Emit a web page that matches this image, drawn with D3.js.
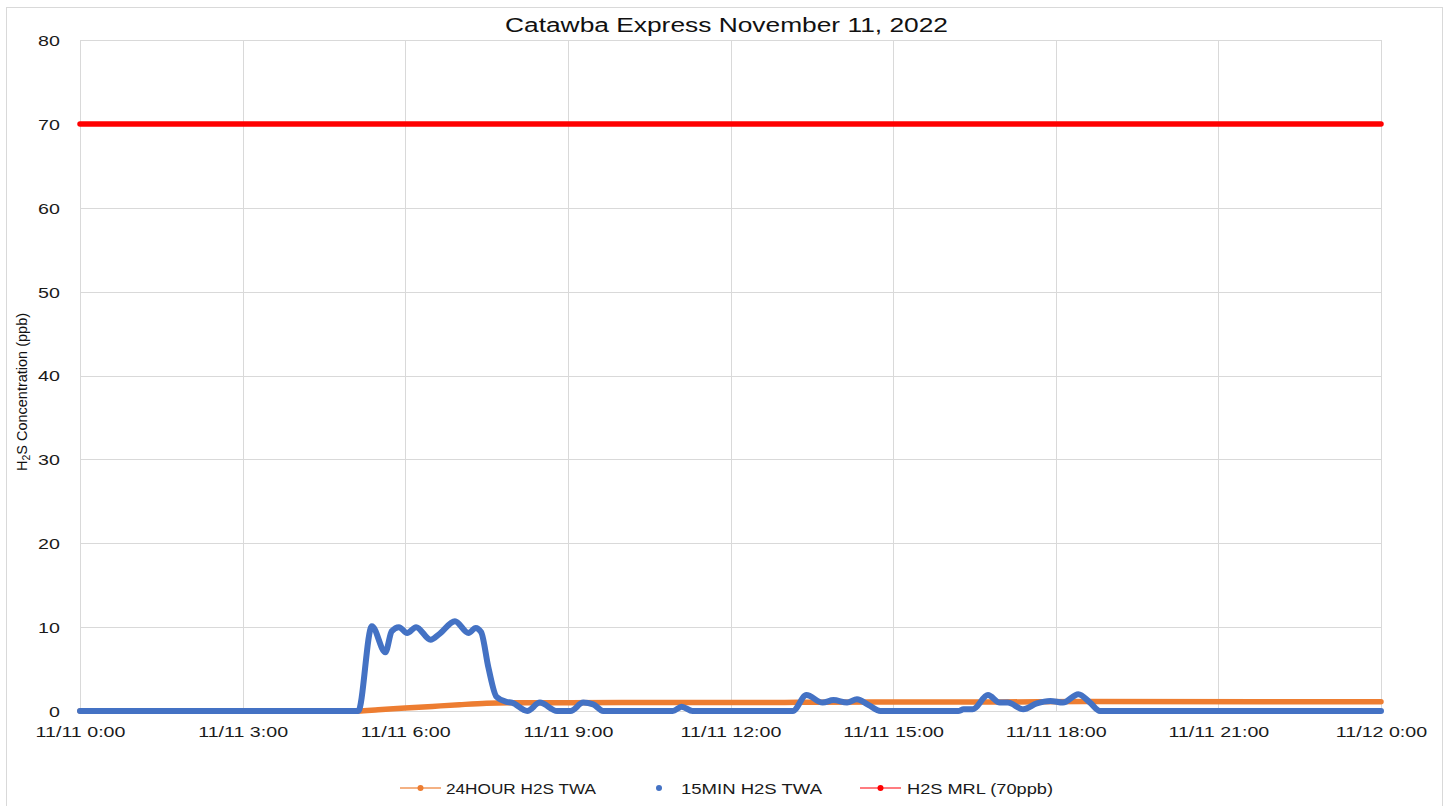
<!DOCTYPE html>
<html><head><meta charset="utf-8">
<script src="https://cdn.jsdelivr.net/npm/d3@7/dist/d3.min.js"></script>
<style>
html,body{margin:0;padding:0;background:#fff;}
svg{display:block;}
</style></head>
<body>
<svg id="chart" width="1450" height="806"></svg>
<script>
const chartTitle = "Catawba Express November 11, 2022";
const yTicks = [0,10,20,30,40,50,60,70,80];
const seriesNames = ["24HOUR H2S TWA","15MIN H2S TWA","H2S MRL (70ppb)"];

const twa15Times = ["0:00","5:05","5:08","5:23","5:38","5:45","5:53","6:02","6:12","6:28","6:38","6:55","7:10","7:18","7:24","7:32","7:41","7:52","7:58","8:15","8:29","8:48","9:03","9:17","9:28","9:39","10:56","11:06","11:18","13:09","13:24","13:42","13:54","14:09","14:20","14:33","14:46","16:12","16:18","16:28","16:45","16:58","17:07","17:24","17:39","17:54","18:08","18:25","18:38","18:49","24:00"];
const twa15Values = [0,0,0,10.1,7.0,9.5,10.0,9.3,10.0,8.5,9.2,10.7,9.3,9.9,9.4,5.2,1.7,1.1,1.0,0,1.0,0,0,1.0,0.8,0,0,0.5,0,0,1.9,1.0,1.3,1.0,1.4,0.7,0,0,0.2,0.2,1.9,1.0,1.0,0.2,0.9,1.2,1.0,2.0,1.0,0,0];

const twa24Times = ["0:00","5:08","5:30","6:00","6:30","7:00","7:30","8:00","10:00","13:00","13:30","15:00","17:00","18:30","24:00"];
const twa24Values = [0,0,0.15,0.35,0.55,0.75,0.92,0.98,1.0,1.02,1.05,1.07,1.08,1.12,1.1];

const mrlTimes = ["0:00","24:00"];
const mrlValues = [70,70];

const base = new Date(2022,10,11,0,0);
function toDate(s){const [h,m]=s.split(":").map(Number);return new Date(base.getTime()+(h*60+m)*60000);}
const zip=(t,v)=>t.map((s,i)=>({d:toDate(s),v:v[i]}));

const svg = d3.select("#chart");
const L=80,R=1381,T=40,B=711;
svg.append("rect").attr("x",6.5).attr("y",7.5).attr("width",1436).attr("height",820)
  .attr("fill","#fff").attr("stroke","#d9d9d9").attr("stroke-width",1);

const x = d3.scaleTime().domain([base,new Date(2022,10,12,0,0)]).range([L,R]);
const y = d3.scaleLinear().domain([0,80]).range([B,T]);

// gridlines
const xTickVals = d3.range(0,9).map(i=>new Date(base.getTime()+i*3*3600000));
svg.append("g").selectAll("line").data(yTicks.filter(d=>d>0)).join("line")
  .attr("x1",L).attr("x2",R).attr("y1",d=>Math.round(y(d))+0.5).attr("y2",d=>Math.round(y(d))+0.5)
  .attr("stroke","#d9d9d9").attr("stroke-width",1);
svg.append("g").selectAll("line").data(xTickVals.slice(1)).join("line")
  .attr("y1",T).attr("y2",B).attr("x1",d=>Math.round(x(d))+0.5).attr("x2",d=>Math.round(x(d))+0.5)
  .attr("stroke","#d9d9d9").attr("stroke-width",1);

// axes
const fmt = d3.timeFormat("%m/%d %-H:%M");
const gx = svg.append("g").attr("transform",`translate(0,${B})`)
  .call(d3.axisBottom(x).tickValues(xTickVals).tickFormat(fmt).tickSize(0).tickPadding(0));
gx.select(".domain").attr("stroke","#d9d9d9");
gx.selectAll("text").attr("font-family","Liberation Sans, Arial, sans-serif").attr("font-size",15)
  .attr("fill","#1a1a1a").attr("y",26).attr("dy",0).attr("transform","scale(1.31,1)");
const gy = svg.append("g").attr("transform",`translate(${L},0)`)
  .call(d3.axisLeft(y).tickValues(yTicks).tickSize(0).tickPadding(0));
gy.select(".domain").attr("stroke","#d9d9d9");
gy.selectAll("text").attr("font-family","Liberation Sans, Arial, sans-serif").attr("font-size",15)
  .attr("fill","#1a1a1a").attr("x",-15.3).attr("dy","0.36em").attr("transform","scale(1.31,1)");

// lines
const line = d3.line().x(d=>x(d.d)).y(d=>y(d.v)).curve(d3.curveMonotoneX);
svg.append("path").datum(zip(twa24Times,twa24Values)).attr("d",line)
  .attr("fill","none").attr("stroke","#ED7D31").attr("stroke-width",5.5).attr("stroke-linecap","round").attr("stroke-linejoin","round");
svg.append("path").datum(zip(twa15Times,twa15Values)).attr("d",line)
  .attr("fill","none").attr("stroke","#4472C4").attr("stroke-width",6).attr("stroke-linecap","round").attr("stroke-linejoin","round");
svg.append("path").datum(zip(mrlTimes,mrlValues)).attr("d",line)
  .attr("fill","none").attr("stroke","#FF0000").attr("stroke-width",5.5).attr("stroke-linecap","round");

// title
svg.append("text").attr("x",(505+948)/2).attr("y",32).attr("text-anchor","middle")
  .attr("font-family","Liberation Sans, Arial, sans-serif").attr("font-size",19.5).attr("fill","#111")
  .attr("textLength",443).attr("lengthAdjust","spacingAndGlyphs").text(chartTitle);

// y axis title
const yt = svg.append("text").attr("transform","translate(27,392) rotate(-90)").attr("text-anchor","middle")
  .attr("font-family","Liberation Sans Narrow, Liberation Sans, Arial, sans-serif").attr("font-size",14).attr("fill","#111")
  .attr("textLength",158).attr("lengthAdjust","spacingAndGlyphs");
yt.append("tspan").text("H");
yt.append("tspan").attr("font-size",10).attr("dy",3).text("2");
yt.append("tspan").attr("dy",-3).text("S Concentration (ppb)");

// legend
const lg = svg.append("g").attr("font-family","Liberation Sans, Arial, sans-serif").attr("font-size",15.5).attr("fill","#1a1a1a");
const ly = 788;
const legendItems = [
  {name:seriesNames[0], lineCol:"#F4B183", dot:"#ED7D31", line:true, x0:400, tx:446, w:150},
  {name:seriesNames[1], lineCol:null, dot:"#4472C4", line:false, x0:659, tx:681, w:141},
  {name:seriesNames[2], lineCol:"#FF7C80", dot:"#FF0000", line:true, x0:860, tx:907, w:146}
];
legendItems.forEach(it=>{
  if(it.line){
    lg.append("line").attr("x1",it.x0).attr("x2",it.x0+41).attr("y1",ly).attr("y2",ly).attr("stroke",it.lineCol).attr("stroke-width",2);
    lg.append("circle").attr("cx",it.x0+20.5).attr("cy",ly).attr("r",3).attr("fill",it.dot);
  } else {
    lg.append("circle").attr("cx",it.x0).attr("cy",ly).attr("r",3).attr("fill",it.dot);
  }
  lg.append("text").attr("x",it.tx).attr("y",ly).attr("dy","0.36em")
    .attr("textLength",it.w).attr("lengthAdjust","spacingAndGlyphs").text(it.name);
});
</script>
</body></html>
